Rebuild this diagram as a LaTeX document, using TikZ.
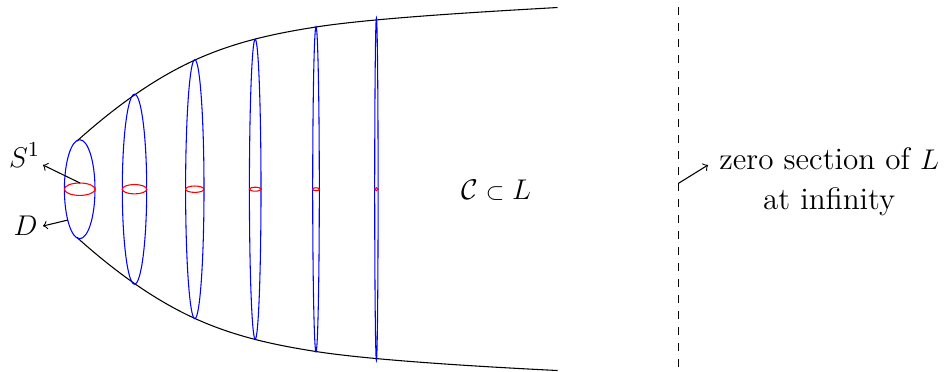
\documentclass[tikz,border=0pt]{standalone}
\usepackage{amsmath,amssymb}
\usetikzlibrary{calc}
\usetikzlibrary{positioning}

\begin{document}
\begin{tikzpicture}[
  x=0.148mm, y=-0.148mm, line width=0.45pt,
  label text/.style={inner sep=0pt,font=\fontsize{13.1}{16.84}\selectfont},
  disc/.style={blue},
  circ/.style={red}
]
  \useasboundingbox (0,0) rectangle (946,371);

  % the two sides of the cone
  \draw (77,141) .. controls (116,106) and (155,78.2) .. (195,60) .. controls (235,41.8) and (275,33.4) .. (316,27) .. controls (376,17.6) and (497,11) .. (557.5,7.5);
  \draw (77,237.5) .. controls (116,272.5) and (155,300.3) .. (195,318.5) .. controls (235,336.7) and (275,345.1) .. (316,351.5) .. controls (376,360.9) and (497,367.5) .. (557.5,370.5);

  % discs and their boundary circles
  \foreach \x/\rx/\ry/\sx/\sy in {79.7/15.3/49.5/15.3/6.2, 134.5/12.2/95/12.2/4.7, 194.8/9.2/129.5/9.2/3.2, 255.2/5.8/150/5.8/2, 316/3.3/162.5/3.3/1.5, 376.4/1.7/171/1.7/1.5}{
    \draw[disc] (\x,189.2) ellipse [x radius=\rx, y radius=\ry];
    \draw[circ] (\x,189.2) ellipse [x radius=\sx, y radius=\sy];
  }

  % infinity
  \coordinate (top) at (678.5,7.3);
  \coordinate (bot) at (678.5,367);
  \draw[dash pattern=on 3.37pt off 3.37pt] (top)--(bot);

  \node[label text] (s1) at (24.5,155) {$S^1$};
  \node[label text] (d) at (25.5,226) {$D$};
  \node[label text] (cl) at (496.2,190.5) {$\mathcal{C}\;\mbox{\fontsize{10}{12}\selectfont$\subset$}\;L$};
  \node[label text,align=center] (zero) at (829.2,182.2) {zero section of $L$\\at infinity};

  \coordinate (s1a) at (80,183);
  \coordinate (da) at (68,220);
  \coordinate (za) at (678.5,183.3);
  \draw[->] (s1a)--(43,165);
  \draw[->] (da)--(43,226);
  \draw[->] (za)--(708,165);
\end{tikzpicture}
\end{document}
